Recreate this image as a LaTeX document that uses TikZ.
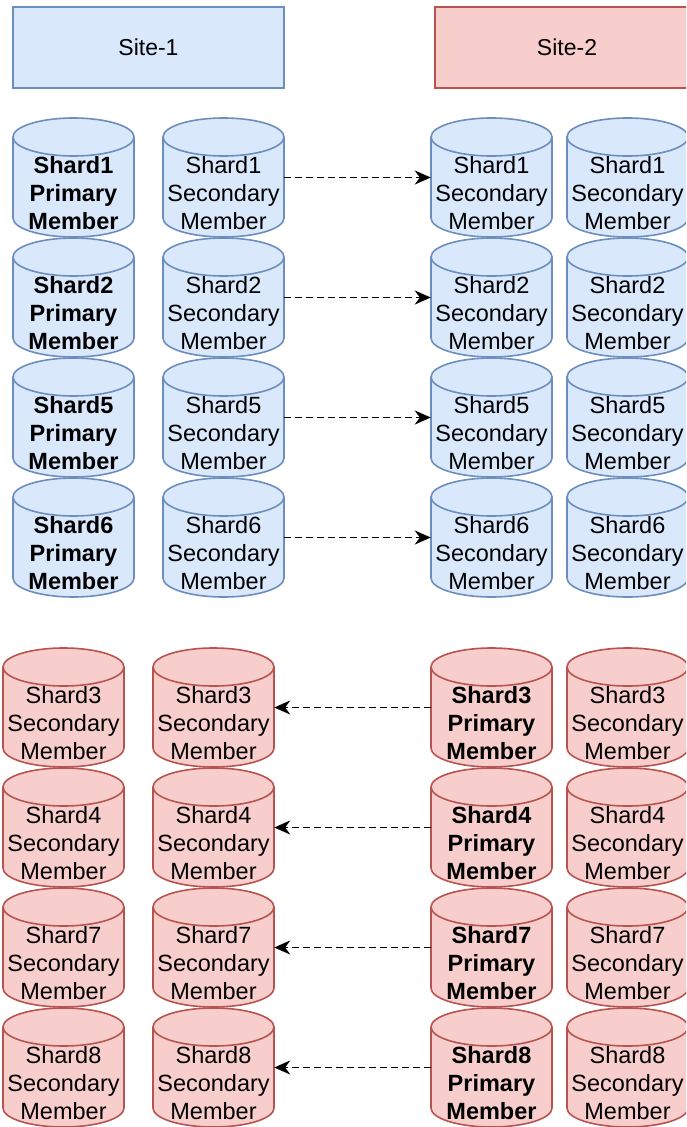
\documentclass[tikz,border=0pt]{standalone}
\usepackage{fontspec}
\setmainfont{Liberation Sans}
\usetikzlibrary{arrows.meta}
\definecolor{bfill}{HTML}{DAE8FC}
\definecolor{bdraw}{HTML}{6C8EBF}
\definecolor{rfill}{HTML}{F8CECC}
\definecolor{rdraw}{HTML}{B85450}
\tikzset{
  bluecyl/.style={draw=bdraw, fill=bfill, line width=1.6pt},
  redcyl/.style={draw=rdraw, fill=rfill, line width=1.6pt},
  cylbox/.style={minimum width=121pt, minimum height=119pt, inner sep=0pt},
  cyltext/.style={align=center, inner sep=0pt, font=\fontsize{23.5}{28}\selectfont},
  sitebox/.style={minimum width=271pt, minimum height=81pt, inner sep=0pt, line width=1.6pt, font=\fontsize{23}{27}\selectfont},
  conn/.style={-{Stealth[length=16pt,width=14pt,inset=5pt]}, line width=1.8pt, dash pattern=on 6.5pt off 4.5pt}
}
% name, left x, top y, style, text
\newcommand\dbcyl[5]{%
  \filldraw[#4] (#2,-#3-19) -- (#2,-#3-100)
    arc[start angle=180,end angle=360,x radius=60.5pt,y radius=19pt]
    -- (#2+121,-#3-19)
    arc[start angle=0,end angle=180,x radius=60.5pt,y radius=19pt] -- cycle;
  \draw[#4, fill=none] (#2,-#3-19)
    arc[start angle=180,end angle=360,x radius=60.5pt,y radius=19pt];
  \node[cylbox] (#1) at (#2+60.5,-#3-59.5) {};
  \node[cyltext] (#1t) at (#2+60.5,-#3-75) {#5};
}
\begin{document}
\begin{tikzpicture}[x=1pt,y=1pt]
\clip (0,0) rectangle (686,-1127);
\fill[white] (0,0) rectangle (686,-1127);
% site headers
\node[sitebox, draw=bdraw, fill=bfill] (site1) at (148.5,-47.5) {Site-1};
\node[sitebox, draw=rdraw, fill=rfill, minimum width=264pt] (site2) at (567,-47.5) {Site-2};
% blue rows
\dbcyl{b11}{13}{118}{bluecyl}{\bfseries Shard1\\\bfseries Primary\\\bfseries Member}
\dbcyl{b12}{163}{118}{bluecyl}{Shard1\\Secondary\\Member}
\dbcyl{b13}{431}{118}{bluecyl}{Shard1\\Secondary\\Member}
\dbcyl{b14}{567}{118}{bluecyl}{Shard1\\Secondary\\Member}
\dbcyl{b21}{13}{238}{bluecyl}{\bfseries Shard2\\\bfseries Primary\\\bfseries Member}
\dbcyl{b22}{163}{238}{bluecyl}{Shard2\\Secondary\\Member}
\dbcyl{b23}{431}{238}{bluecyl}{Shard2\\Secondary\\Member}
\dbcyl{b24}{567}{238}{bluecyl}{Shard2\\Secondary\\Member}
\dbcyl{b31}{13}{358}{bluecyl}{\bfseries Shard5\\\bfseries Primary\\\bfseries Member}
\dbcyl{b32}{163}{358}{bluecyl}{Shard5\\Secondary\\Member}
\dbcyl{b33}{431}{358}{bluecyl}{Shard5\\Secondary\\Member}
\dbcyl{b34}{567}{358}{bluecyl}{Shard5\\Secondary\\Member}
\dbcyl{b41}{13}{478}{bluecyl}{\bfseries Shard6\\\bfseries Primary\\\bfseries Member}
\dbcyl{b42}{163}{478}{bluecyl}{Shard6\\Secondary\\Member}
\dbcyl{b43}{431}{478}{bluecyl}{Shard6\\Secondary\\Member}
\dbcyl{b44}{567}{478}{bluecyl}{Shard6\\Secondary\\Member}
% red rows
\dbcyl{r11}{3}{648}{redcyl}{Shard3\\Secondary\\Member}
\dbcyl{r12}{153}{648}{redcyl}{Shard3\\Secondary\\Member}
\dbcyl{r13}{431}{648}{redcyl}{\bfseries Shard3\\\bfseries Primary\\\bfseries Member}
\dbcyl{r14}{567}{648}{redcyl}{Shard3\\Secondary\\Member}
\dbcyl{r21}{3}{768}{redcyl}{Shard4\\Secondary\\Member}
\dbcyl{r22}{153}{768}{redcyl}{Shard4\\Secondary\\Member}
\dbcyl{r23}{431}{768}{redcyl}{\bfseries Shard4\\\bfseries Primary\\\bfseries Member}
\dbcyl{r24}{567}{768}{redcyl}{Shard4\\Secondary\\Member}
\dbcyl{r31}{3}{888}{redcyl}{Shard7\\Secondary\\Member}
\dbcyl{r32}{153}{888}{redcyl}{Shard7\\Secondary\\Member}
\dbcyl{r33}{431}{888}{redcyl}{\bfseries Shard7\\\bfseries Primary\\\bfseries Member}
\dbcyl{r34}{567}{888}{redcyl}{Shard7\\Secondary\\Member}
\dbcyl{r41}{3}{1008}{redcyl}{Shard8\\Secondary\\Member}
\dbcyl{r42}{153}{1008}{redcyl}{Shard8\\Secondary\\Member}
\dbcyl{r43}{431}{1008}{redcyl}{\bfseries Shard8\\\bfseries Primary\\\bfseries Member}
\dbcyl{r44}{567}{1008}{redcyl}{Shard8\\Secondary\\Member}
% connectors
\draw[conn] (b12) -- (b13);
\draw[conn] (b22) -- (b23);
\draw[conn] (b32) -- (b33);
\draw[conn] (b42) -- (b43);
\draw[conn] (r13) -- (r12);
\draw[conn] (r23) -- (r22);
\draw[conn] (r33) -- (r32);
\draw[conn] (r43) -- (r42);
\end{tikzpicture}
\end{document}
